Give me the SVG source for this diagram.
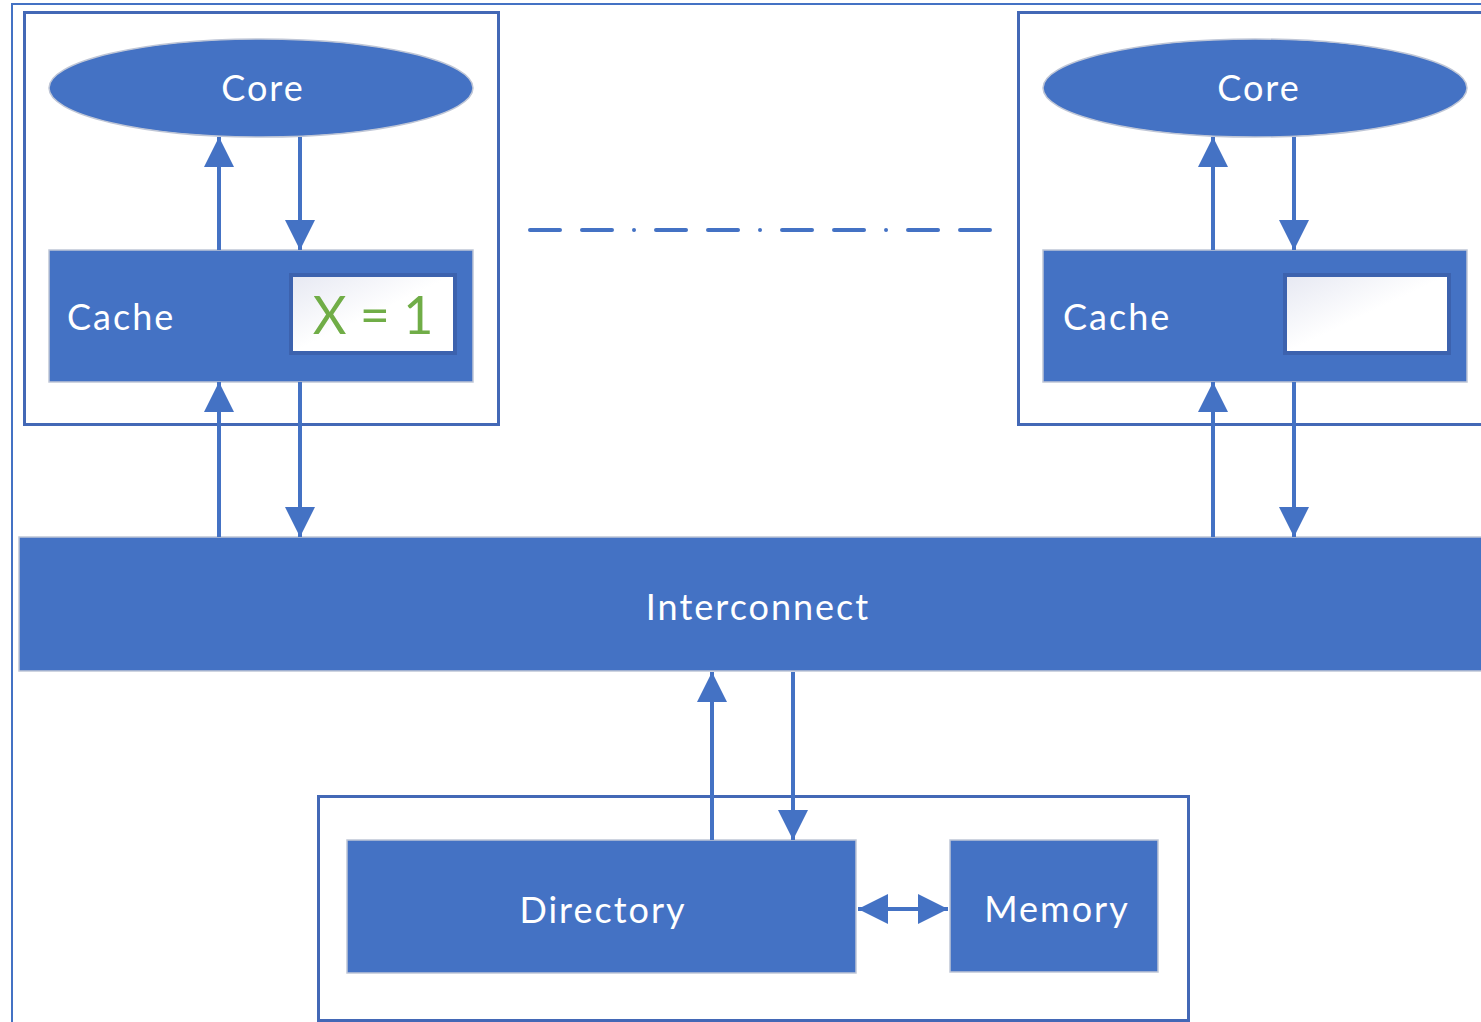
<svg xmlns="http://www.w3.org/2000/svg" width="1481" height="1022" viewBox="0 0 1481 1022">
  <style>
    .frame { fill: none; stroke: #4472C4; stroke-width: 2; }
    .group { fill: none; stroke: #4368B6; stroke-width: 3; }
    .block { fill: #4472C4; stroke: #BFC6D6; stroke-width: 1.5; }
    .core { fill: #4472C4; stroke: #BFC6D6; stroke-width: 1.5; }
    .slot { fill: url(#slotFill); stroke: #3C62AE; stroke-width: 4; }
    .label { fill: #FFFFFF; font-family: Lato, "Open Sans", sans-serif; font-size: 36px; letter-spacing: 2px; }
    .value { fill: #70AD47; font-family: Lato, "Open Sans", sans-serif; font-size: 52px; }
    .wire { stroke: #4472C4; stroke-width: 4; fill: none; }
    .dash { stroke: #4472C4; stroke-width: 4; fill: none; stroke-linecap: round; stroke-dasharray: 30 22 30 22 0.01 22; }
  </style>
  <defs>
    <linearGradient id="slotFill" x1="0" y1="0" x2="1" y2="1">
      <stop offset="0" stop-color="#E6E8F2"/>
      <stop offset="0.5" stop-color="#FFFFFF"/>
      <stop offset="1" stop-color="#FFFFFF"/>
    </linearGradient>
    <marker id="head" viewBox="0 0 30 30" refX="30" refY="15" markerWidth="30" markerHeight="30" markerUnits="userSpaceOnUse" orient="auto-start-reverse">
      <path d="M0,0 L30,15 L0,30 Z" fill="#4472C4"/>
    </marker>
  </defs>

  <!-- outer system frame -->
  <rect class="frame" x="12" y="4" width="1480" height="1030"/>

  <g id="node-left">
    <rect class="group" x="24.5" y="12.5" width="474" height="412"/>
    <g id="core-left">
      <ellipse class="core" cx="261" cy="88" rx="212" ry="49"/>
      <text class="label" x="263" y="101" text-anchor="middle">Core</text>
    </g>
    <g id="cache-left">
      <rect class="block" x="49" y="250" width="424" height="132"/>
      <text class="label" x="67" y="330">Cache</text>
      <rect class="slot" x="291" y="275" width="164" height="78"/>
      <text class="value" x="373" y="334" text-anchor="middle">X = 1</text>
    </g>
  </g>

  <g id="node-right">
    <rect class="group" x="1018.5" y="12.5" width="480" height="412"/>
    <g id="core-right">
      <ellipse class="core" cx="1255" cy="88" rx="212" ry="49"/>
      <text class="label" x="1259" y="101" text-anchor="middle">Core</text>
    </g>
    <g id="cache-right">
      <rect class="block" x="1043" y="250" width="424" height="132"/>
      <text class="label" x="1063" y="330">Cache</text>
      <rect class="slot" x="1285" y="275" width="164" height="78"/>
    </g>
  </g>

  <g id="interconnect">
    <rect class="block" x="19" y="537" width="1470" height="134"/>
    <text class="label" x="758" y="620" text-anchor="middle">Interconnect</text>
  </g>

  <g id="home">
    <rect class="group" x="318.5" y="796.5" width="870" height="224"/>
    <g id="directory">
      <rect class="block" x="347" y="840" width="509" height="133"/>
      <text class="label" x="603" y="923" text-anchor="middle">Directory</text>
    </g>
    <g id="memory">
      <rect class="block" x="950" y="840" width="208" height="132"/>
      <text class="label" x="1057" y="922" text-anchor="middle">Memory</text>
    </g>
  </g>

  <g id="connectors">
    <!-- core / cache links -->
    <line class="wire" x1="219" y1="250" x2="219" y2="137" marker-end="url(#head)"/>
    <line class="wire" x1="300" y1="137" x2="300" y2="250" marker-end="url(#head)"/>
    <line class="wire" x1="1213" y1="250" x2="1213" y2="137" marker-end="url(#head)"/>
    <line class="wire" x1="1294" y1="137" x2="1294" y2="250" marker-end="url(#head)"/>
    <!-- cache / interconnect links -->
    <line class="wire" x1="219" y1="537" x2="219" y2="382" marker-end="url(#head)"/>
    <line class="wire" x1="300" y1="382" x2="300" y2="537" marker-end="url(#head)"/>
    <line class="wire" x1="1213" y1="537" x2="1213" y2="382" marker-end="url(#head)"/>
    <line class="wire" x1="1294" y1="382" x2="1294" y2="537" marker-end="url(#head)"/>
    <!-- interconnect / directory links -->
    <line class="wire" x1="712" y1="840" x2="712" y2="672" marker-end="url(#head)"/>
    <line class="wire" x1="793" y1="672" x2="793" y2="840" marker-end="url(#head)"/>
    <!-- directory / memory -->
    <line class="wire" x1="858" y1="909" x2="948" y2="909" marker-start="url(#head)" marker-end="url(#head)"/>
    <!-- more nodes in between -->
    <line class="dash" x1="530" y1="230" x2="990" y2="230"/>
  </g>
</svg>
